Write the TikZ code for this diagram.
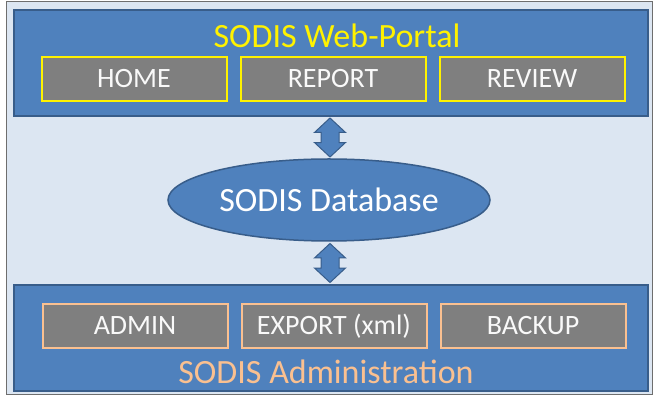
\documentclass[tikz,border=0pt]{standalone}
\usepackage{fontspec}
\setmainfont{Carlito}
\usetikzlibrary{positioning,shapes.geometric,shapes.arrows,calc}
\definecolor{panelblue}{HTML}{4F81BD}
\definecolor{paneledge}{HTML}{385D8A}
\definecolor{paleblue}{HTML}{DCE6F2}
\definecolor{buttongray}{HTML}{7F7F7F}
\definecolor{peach}{HTML}{FAC090}
\definecolor{framegray}{HTML}{6E6E6E}

\begin{document}
\begin{tikzpicture}[x=1pt, y=1pt, node distance=14pt,
  panel/.style={draw=paneledge, line width=1.5pt, fill=panelblue,
    minimum width=634pt, minimum height=106pt, inner sep=0pt},
  button/.style={draw, line width=2pt, fill=buttongray, text=white!95!gray,
    minimum width=185pt, minimum height=44pt, inner sep=0pt, outer sep=0pt,
    font=\fontsize{28}{32}\selectfont},
  heading/.style={font=\fontsize{34}{38}\selectfont, inner sep=0pt},
  link/.style={double arrow, draw=paneledge, line width=1pt, fill=panelblue,
    rotate=90, inner sep=8.5pt, double arrow head extend=6.5pt,
    double arrow tip angle=94, minimum height=39pt}]
  \useasboundingbox (0,0) rectangle (654,396);
  \draw[framegray, fill=paleblue] (6,1.5) rectangle (652.5,395);

  % web portal
  \node[panel] (Portal) at (331,333) {};
  \node[heading, text=yellow] (PortalTitle) at (337,360) {SODIS Web-Portal};
  \node[button, draw=yellow] (Home) at (134,317) {HOME};
  \node[button, draw=yellow] (Report) [right=of Home] {REPORT};
  \node[button, draw=yellow] (Review) [right=of Report] {REVIEW};

  % database
  \node[ellipse, draw=paneledge, line width=1.5pt, fill=panelblue, text=white,
    minimum width=322pt, minimum height=82pt, inner sep=0pt,
    font=\fontsize{34}{38}\selectfont] (Database) at (329,196) {SODIS Database};

  % administration
  \node[panel] (Administration) at (331,58) {};
  \node[button, draw=peach] (Admin) at (135,70) {ADMIN};
  \node[button, draw=peach] (Export) [right=of Admin] {EXPORT (xml)};
  \node[button, draw=peach] (Backup) [right=of Export] {BACKUP};
  \node[heading, text=peach] (AdminTitle) at (326,24) {SODIS Administration};

  % links
  \node[link] (PortalLink) at ($(Portal.south)!0.5!(Database.north)$) {};
  \node[link] (AdminLink) at ($(Database.south)!0.5!(Administration.north)$) {};
\end{tikzpicture}
\end{document}
